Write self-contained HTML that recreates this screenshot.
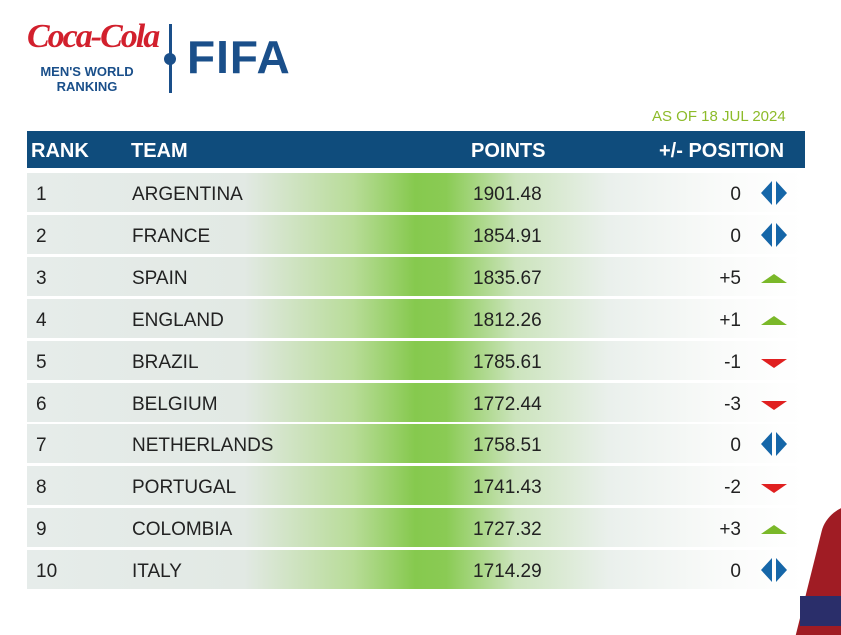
<!DOCTYPE html>
<html><head><style>
body{margin:0;width:841px;height:620px;background:#fff;position:relative;overflow:hidden;font-family:"Liberation Sans",sans-serif}
.hdr{position:absolute;left:27px;top:131px;width:778px;height:37px;background:#0f4c7c;color:#fff;font-weight:bold;font-size:20px}
.hdr span{position:absolute;top:9px}
.row{position:absolute;left:27px;width:776px;height:39px;background:linear-gradient(90deg,#e6ecea 0%,#e2e9e4 28%,#b8dc98 42%,#86c94e 50%,#8acb54 54%,#cce4bd 63%,#eaf0ec 75%,#fafbfa 90%,#fff 100%);font-size:19px;color:#222}
.row span{position:absolute;top:11px}
.ar{position:absolute;left:734px;top:8px}
</style></head><body>
<div style="position:absolute;left:27px;top:18px;color:#d2202d;font-family:'Liberation Serif',serif;font-style:italic;font-weight:bold;font-size:34px;letter-spacing:-2px">Coca-Cola</div>
<div style="position:absolute;left:39px;top:64px;color:#1a4f8a;font-weight:bold;font-size:13px;text-align:center;line-height:15px;width:96px">MEN'S WORLD<br>RANKING</div>
<div style="position:absolute;left:169px;top:24px;width:3px;height:69px;background:#1a4f8a"></div>
<div style="position:absolute;left:164px;top:53px;width:12px;height:12px;border-radius:50%;background:#1a4f8a"></div>
<div style="position:absolute;left:187px;top:30px;color:#1a4f8a;font-weight:bold;font-size:46px;letter-spacing:1px">FIFA</div>
<div style="position:absolute;left:652px;top:108px;color:#8dbb2a;font-size:15px">AS OF 18 JUL 2024</div>
<div class="hdr"><span style="left:4px">RANK</span><span style="left:104px">TEAM</span><span style="left:444px">POINTS</span><span style="left:632px">+/- POSITION</span></div>
<div id="rows"></div>
<div style="position:absolute;left:812px;top:505px;width:50px;height:130px;background:#a01c24;transform:skewX(-14deg);border-radius:26px 0 0 0"></div>
<div style="position:absolute;left:800px;top:596px;width:60px;height:30px;background:#2a2e6a"></div>
<script>
var d=[["1","ARGENTINA","1901.48","0","s"],["2","FRANCE","1854.91","0","s"],["3","SPAIN","1835.67","+5","u"],["4","ENGLAND","1812.26","+1","u"],["5","BRAZIL","1785.61","-1","d"],["6","BELGIUM","1772.44","-3","d"],["7","NETHERLANDS","1758.51","0","s"],["8","PORTUGAL","1741.43","-2","d"],["9","COLOMBIA","1727.32","+3","u"],["10","ITALY","1714.29","0","s"]];
var h="";
d.forEach(function(r,i){var t=173+i*41.9;var ic;
if(r[4]=="s")ic='<svg class="ar" width="26" height="24"><polygon points="11,0 0,12 11,24" fill="#1566a8"/><polygon points="15,0 26,12 15,24" fill="#1566a8"/></svg>';
else if(r[4]=="u")ic='<svg class="ar" width="26" height="24" style="top:9px"><polygon points="0,17 26,17 13,8" fill="#7ab829"/></svg>';
else ic='<svg class="ar" width="26" height="24" style="top:9px"><polygon points="0,9 26,9 13,18" fill="#e02020"/></svg>';
h+='<div class="row" style="top:'+t+'px"><span style="left:9px">'+r[0]+'</span><span style="left:105px">'+r[1]+'</span><span style="left:446px">'+r[2]+'</span><span style="right:62px">'+r[3]+'</span>'+ic+'</div>';});
document.getElementById("rows").innerHTML=h;
</script>
</body></html>
